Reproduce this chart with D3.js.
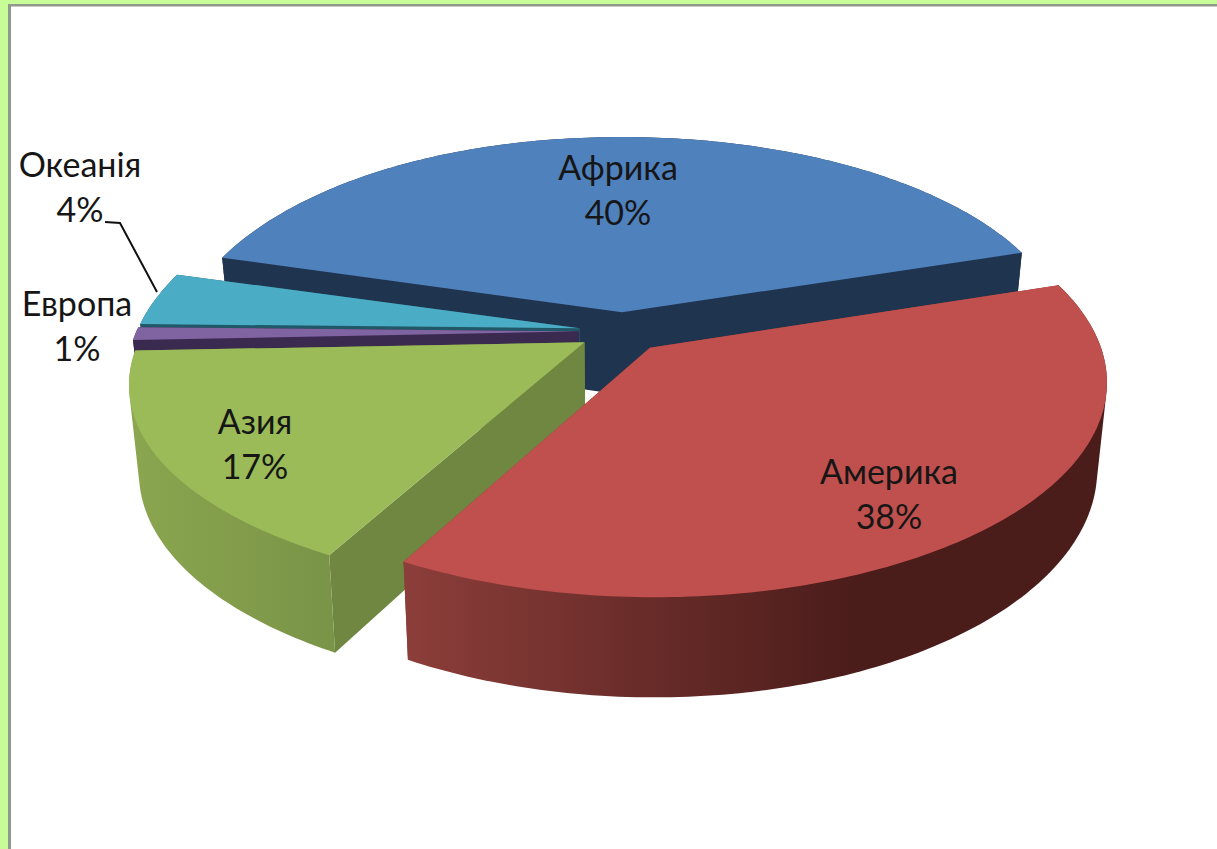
<!DOCTYPE html>
<html>
<head>
<meta charset="utf-8">
<script src="https://cdn.jsdelivr.net/npm/d3@7/dist/d3.min.js"></script>
<style>html,body{margin:0;padding:0;background:#fff;overflow:hidden}svg{display:block}</style>
</head>
<body>
<div id="chart"></div>
<script>
const categories = ["Африка", "Америка", "Азия", "Европа", "Океанія"];
const values = [40, 38, 17, 1, 4];
const topColors = ["#4f81bd", "#c0504d", "#9bbb59", "#8064a2", "#4bacc6"];
const faceColors = ["#1f344f", "#8a3a37", "#6f8740", "#3a2a50", "#205867"];
const wallLeft = ["#1f344f", "#8c3e3a", "#8ba64f", "#3a2a50", "#205867"];
const wallRight = ["#1f344f", "#4a1c1a", "#7a9448", "#3a2a50", "#205867"];
const labelPos = [[618,180],[889,484],[255,434],[77,316],[80,177]];
const drawOrder = ["Африка", "Океанія", "Европа", "Азия", "Америка"];

const W = 1217, H = 849;
const svg = d3.select("#chart").append("svg").attr("width", W).attr("height", H)
  .style("font-family", "Lato, 'Open Sans', sans-serif");

svg.append("rect").attr("width", W).attr("height", H).attr("fill", "#fff");
svg.append("rect").attr("width", W).attr("height", 4).attr("fill", "#c8fc96");
svg.append("rect").attr("width", 8).attr("height", H).attr("fill", "#c8fc96");
svg.append("rect").attr("x", 8).attr("y", 4).attr("width", W - 8).attr("height", 2.5).attr("fill", "#8f9a8c");
svg.append("rect").attr("x", 8).attr("y", 4).attr("width", 3).attr("height", H).attr("fill", "#8f9a8c");

const xS = d3.scaleLinear().domain([-1, 1]).range([622 - 446, 622 + 446]);
const yS = d3.scaleLinear().domain([-1, 1]).range([332 - 207, 332 + 207]);
const persp = 0.15, depth = 84, shrink = 0.98, explode = 0.097, lean = 6;

function project(u, v, bottom) {
  const w = 1 / (1 - persp * v);
  const sx = bottom ? shrink : 1;
  const x = xS(0) + (xS(u) - xS(0)) * w * sx;
  const y = yS(0) + (yS(v) - yS(0)) * w + (bottom ? depth * w : 0) + (u < 0 ? lean * u * u * u * u : 0);
  return [x, y];
}

const pie = d3.pie().sort(null).value(d => d)
  .startAngle(-72 * Math.PI / 180).endAngle(288 * Math.PI / 180);
const arcs = pie(values);
const line = d3.line();
const defs = svg.append("defs");

function slicePoints(a, bottom) {
  const mid = (a.startAngle + a.endAngle) / 2;
  const ou = explode * Math.sin(mid), ov = -explode * Math.cos(mid);
  const n = Math.max(4, Math.round((a.endAngle - a.startAngle) * 60));
  const rim = d3.range(n + 1).map(i => {
    const t = a.startAngle + (a.endAngle - a.startAngle) * i / n;
    return project(ou + Math.sin(t), ov - Math.cos(t), bottom);
  });
  return { apex: project(ou, ov, bottom), rim };
}

drawOrder.forEach(name => {
  const i = categories.indexOf(name);
  const a = arcs[i];
  const top = slicePoints(a, false), bot = slicePoints(a, true);
  const g = svg.append("g").attr("class", "slice");
  const xs = top.rim.map(p => p[0]);
  const gid = "wall" + i;
  const lg = defs.append("linearGradient").attr("id", gid)
    .attr("gradientUnits", "userSpaceOnUse")
    .attr("x1", i === 1 ? 403 : d3.min(xs)).attr("x2", i === 1 ? 860 : d3.max(xs))
    .attr("y1", 0).attr("y2", 0);
  lg.append("stop").attr("offset", 0).attr("stop-color", wallLeft[i]);
  lg.append("stop").attr("offset", 1).attr("stop-color", wallRight[i]);
  // radial cut faces
  [[top.rim[0], bot.rim[0]], [top.rim[top.rim.length - 1], bot.rim[bot.rim.length - 1]]].forEach(([t, b]) => {
    g.append("path").attr("d", line([top.apex, t, b, bot.apex]) + "Z")
      .attr("fill", faceColors[i]);
  });
  // outer wall: the silhouette of the rim swept from top plane to bottom plane
  g.append("path").attr("d", line(d3.polygonHull(top.rim.concat(bot.rim))) + "Z")
    .attr("fill", `url(#${gid})`);
  // top surface
  g.append("path").attr("d", line([top.apex].concat(top.rim)) + "Z")
    .attr("fill", topColors[i]);
});

svg.append("path")
  .attr("d", line([[105, 222], [120, 223], [157, 292]]))
  .attr("fill", "none").attr("stroke", "#111").attr("stroke-width", 2);

categories.forEach((c, i) => {
  const t = svg.append("text").attr("text-anchor", "middle").attr("fill", "#161616")
    .attr("font-size", 34);
  t.append("tspan").attr("x", labelPos[i][0]).attr("y", labelPos[i][1]).text(c);
  t.append("tspan").attr("x", labelPos[i][0]).attr("y", labelPos[i][1] + 45).text(values[i] + "%");
});
</script>
</body>
</html>
